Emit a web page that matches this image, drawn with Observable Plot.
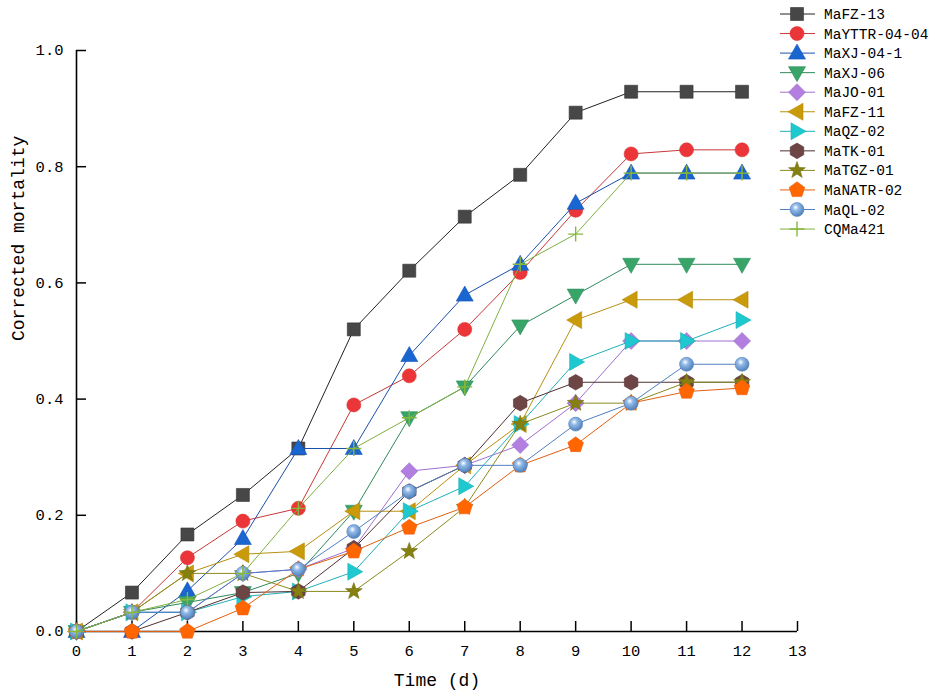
<!DOCTYPE html>
<html><head><meta charset="utf-8">
<script src="https://cdn.jsdelivr.net/npm/d3@7"></script>
<script src="https://cdn.jsdelivr.net/npm/@observablehq/plot@0.6"></script>
<style>
body{margin:0;background:#fff;}
#wrap{position:relative;width:935px;height:700px;}
#legend{position:absolute;left:0;top:0;}
</style></head><body><div id="wrap"></div>
<script>
// ---- data ----
const days = [0,1,2,3,4,5,6,7,8,9,10,11,12];
const xTicks = [0,1,2,3,4,5,6,7,8,9,10,11,12,13];
const yTicks = [0,0.2,0.4,0.6,0.8,1.0];
const seriesNames = ["MaFZ-13","MaYTTR-04-04","MaXJ-04-1","MaXJ-06","MaJO-01","MaFZ-11","MaQZ-02","MaTK-01","MaTGZ-01","MaNATR-02","MaQL-02","CQMa421"];
const MaFZ_13      = [0, 0.067, 0.167, 0.235, 0.315, 0.52, 0.621, 0.714, 0.786, 0.893, 0.929, 0.929, 0.929];
const MaYTTR_04_04 = [0, 0.033, 0.127, 0.19, 0.212, 0.39, 0.44, 0.52, 0.618, 0.725, 0.822, 0.829, 0.829];
const MaXJ_04_1    = [0, 0, 0.07, 0.16, 0.315, 0.315, 0.475, 0.579, 0.632, 0.737, 0.789, 0.789, 0.789];
const MaXJ_06      = [0, 0.033, 0.05, 0.067, 0.1, 0.207, 0.368, 0.421, 0.526, 0.579, 0.632, 0.632, 0.632];
const MaJO_01      = [0, 0.033, 0.033, 0.1, 0.107, 0.143, 0.276, 0.286, 0.321, 0.393, 0.5, 0.5, 0.5];
const MaFZ_11      = [0, 0.033, 0.1, 0.133, 0.138, 0.207, 0.207, 0.286, 0.357, 0.536, 0.571, 0.571, 0.571];
const MaQZ_02      = [0, 0.033, 0.033, 0.06, 0.069, 0.103, 0.207, 0.25, 0.357, 0.464, 0.5, 0.5, 0.536];
const MaTK_01      = [0, 0, 0.033, 0.067, 0.069, 0.143, 0.241, 0.286, 0.393, 0.429, 0.429, 0.429, 0.429];
const MaTGZ_01     = [0, 0.033, 0.1, 0.1, 0.069, 0.069, 0.138, 0.214, 0.357, 0.393, 0.393, 0.429, 0.429];
const MaNATR_02    = [0, 0, 0, 0.04, 0.107, 0.138, 0.179, 0.214, 0.286, 0.321, 0.393, 0.413, 0.419];
const MaQL_02      = [0, 0.033, 0.033, 0.1, 0.107, 0.172, 0.241, 0.286, 0.286, 0.357, 0.393, 0.46, 0.46];
const CQMa421      = [0, 0.033, 0.055, 0.1, 0.212, 0.315, 0.368, 0.421, 0.632, 0.684, 0.789, 0.789, 0.789];
const seriesValues = [MaFZ_13, MaYTTR_04_04, MaXJ_04_1, MaXJ_06, MaJO_01, MaFZ_11, MaQZ_02, MaTK_01, MaTGZ_01, MaNATR_02, MaQL_02, CQMa421];

// ---- styles ----
const FONT = '"Liberation Mono", "DejaVu Sans Mono", monospace';
const poly = (pts) => ({draw(c, s){ const k = Math.sqrt(s/Math.PI); pts.forEach(([x,y],i)=> i? c.lineTo(x*k,y*k) : c.moveTo(x*k,y*k)); c.closePath(); }});
const ngon = (n, R, rot) => poly(d3.range(n).map(i => { const a = rot + i*2*Math.PI/n; return [R*Math.cos(a), R*Math.sin(a)]; }));
const starPts = d3.range(10).map(i => { const a = -Math.PI/2 + i*Math.PI/5, R = i%2 ? 3.6 : 8.8; return [R*Math.cos(a), R*Math.sin(a)]; });
const circ = (R) => ({draw(c, s){ const k = Math.sqrt(s/Math.PI), r = R*k; c.moveTo(r,0); c.arc(0,0,r,0,2*Math.PI); }});
const symbols = [
  poly([[-6.5,-6.5],[6.5,-6.5],[6.5,6.5],[-6.5,6.5]]),      // square
  circ(7),                                                   // circle
  poly([[0,-9],[8.5,6],[-8.5,6]]),                          // triangle up
  poly([[0,9],[8.5,-6],[-8.5,-6]]),                         // triangle down
  poly([[0,-8.5],[8.5,0],[0,8.5],[-8.5,0]]),                // diamond
  poly([[-9,0],[6,-8.5],[6,8.5]]),                          // triangle left
  poly([[9,0],[-6,-8.5],[-6,8.5]]),                         // triangle right
  ngon(6, 7.8, -Math.PI/2),                                  // hexagon
  poly(starPts),                                             // star
  ngon(5, 8.2, -Math.PI/2),                                  // pentagon
  circ(7),                                                   // sphere
  {draw(c, s){ const k = Math.sqrt(s/Math.PI), a = 7.5*k; c.moveTo(-a,0); c.lineTo(a,0); c.moveTo(0,-a); c.lineTo(0,a); }} // plus
];
const fills   = ["#474747","#ec3539","#1a66d0","#38a468","#b27fe0","#c99a0a","#1ec8cf","#6d4545","#858010","#ff6600","url(#sph)","none"];
const strokes = ["#333333","#d83030","#1a55b8","#2f9060","#a070d0","#b58a08","#1ab4ba","#5a3838","#727010","#f06010","#5a88c0","#88b83a"];
const lineCols= ["#222222","#c83838","#1a4faa","#2e8a5a","#a070d0","#b89010","#20b0b8","#503030","#8a8a20","#e06010","#5080c0","#80b040"];

const table = seriesNames.flatMap((name, i) => days.map((d, j) => ({series: name, day: d, value: seriesValues[i][j]})));

const marks = [
  Plot.tickX(xTicks, {x: d => d, insetTop: 571, stroke: "#000", strokeWidth: 1.5}),
  Plot.tickY(yTicks, {y: d => d, insetRight: 711, stroke: "#000", strokeWidth: 1.5}),
  Plot.axisX({ticks: xTicks, tickSize: 0, tickPadding: 13, tickFormat: d => String(d), label: null, fontSize: 15.5}),
  Plot.axisY({ticks: yTicks, tickSize: 0, tickPadding: 13, tickFormat: d3.format(".1f"), label: null, fontSize: 15.5}),
  Plot.ruleX([0], {stroke: "#000", strokeWidth: 1.6}),
  Plot.ruleY([0], {stroke: "#000", strokeWidth: 1.6}),
  Plot.text(["Time (d)"], {text: d => d, frameAnchor: "bottom", dy: 54, fontSize: 18, fill: "#000"}),
  Plot.text(["Corrected mortality"], {text: d => d, frameAnchor: "left", dx: -58, rotate: -90, fontSize: 18, fill: "#000"})
];
seriesNames.forEach((name, i) => {
  const rows = table.filter(r => r.series === name);
  marks.push(Plot.line(rows, {x: "day", y: "value", stroke: lineCols[i], strokeWidth: 1}));
  marks.push(Plot.dot(rows, {x: "day", y: "value", r: 1, symbol: symbols[i], fill: fills[i],
    stroke: strokes[i], strokeWidth: i === 11 ? 1.4 : 0.6}));
});

const plot = Plot.plot({
  width: 935, height: 700,
  marginLeft: 76, marginRight: 138, marginTop: 50, marginBottom: 69,
  style: {fontFamily: FONT, fontSize: "15.5px", color: "#000", background: "#fff", overflow: "visible"},
  x: {domain: [0, 13]},
  y: {domain: [0, 1]},
  marks
});

function addGradient(svg, id) {
  const g = svg.append("defs").append("radialGradient").attr("id", id).attr("cx", "40%").attr("cy", "35%").attr("r", "65%");
  g.append("stop").attr("offset", "0%").attr("stop-color", "#ffffff");
  g.append("stop").attr("offset", "35%").attr("stop-color", "#8fb8e6");
  g.append("stop").attr("offset", "100%").attr("stop-color", "#4f7fba");
}
addGradient(d3.select(plot), "sph");
document.getElementById("wrap").appendChild(plot);

// ---- legend ----
const leg = d3.select("#wrap").append("svg").attr("id", "legend").attr("width", 935).attr("height", 260);
addGradient(leg, "sph2");
seriesNames.forEach((name, i) => {
  const y = 14 + i * 19.55;
  leg.append("line").attr("x1", 780).attr("x2", 815).attr("y1", y).attr("y2", y).attr("stroke", lineCols[i]).attr("stroke-width", 1);
  leg.append("path").attr("d", d3.symbol(symbols[i], Math.PI)()).attr("transform", `translate(797,${y})`)
    .attr("fill", i === 10 ? "url(#sph2)" : fills[i]).attr("stroke", strokes[i]).attr("stroke-width", i === 11 ? 1.4 : 0.6);
  leg.append("text").attr("x", 824).attr("y", y + 5).attr("font-family", FONT).attr("font-size", 14.5).attr("fill", "#000").text(name);
});
</script>
</body></html>
